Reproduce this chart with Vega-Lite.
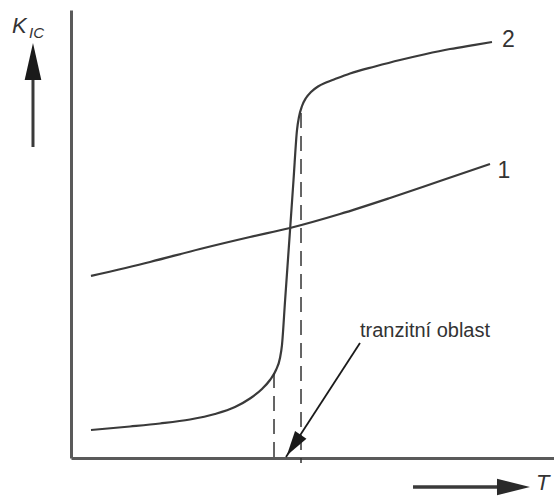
{
  "$schema": "https://vega.github.io/schema/vega-lite/v6.json",
  "width": 483,
  "height": 448,
  "padding": {"left": 71, "top": 10, "right": 0, "bottom": 38},
  "autosize": {"type": "none"},
  "background": "white",
  "config": {
    "view": {"stroke": null},
    "axis": {"domainColor": "#5a5a5a", "domainWidth": 3, "ticks": false, "labels": false, "grid": false},
    "font": "Liberation Sans"
  },
  "datasets": {
    "curves": [
      {"series": "1", "x": 4.14, "y": 40.63},
      {"series": "1", "x": 16.36, "y": 43.75},
      {"series": "1", "x": 26.71, "y": 46.65},
      {"series": "1", "x": 37.06, "y": 49.33},
      {"series": "1", "x": 45.34, "y": 51.34},
      {"series": "1", "x": 55.69, "y": 54.46},
      {"series": "1", "x": 66.05, "y": 58.04},
      {"series": "1", "x": 76.40, "y": 61.83},
      {"series": "1", "x": 86.75, "y": 65.63},
      {"series": "2", "x": 4.14, "y": 6.25},
      {"series": "2", "x": 12.22, "y": 7.03},
      {"series": "2", "x": 18.43, "y": 7.70},
      {"series": "2", "x": 24.64, "y": 8.59},
      {"series": "2", "x": 29.81, "y": 9.82},
      {"series": "2", "x": 33.95, "y": 11.38},
      {"series": "2", "x": 37.06, "y": 13.28},
      {"series": "2", "x": 39.54, "y": 15.40},
      {"series": "2", "x": 41.20, "y": 17.41},
      {"series": "2", "x": 42.44, "y": 19.64},
      {"series": "2", "x": 43.27, "y": 22.32},
      {"series": "2", "x": 43.68, "y": 25.22},
      {"series": "2", "x": 44.33, "y": 35.27},
      {"series": "2", "x": 45.38, "y": 51.34},
      {"series": "2", "x": 46.07, "y": 62.05},
      {"series": "2", "x": 46.79, "y": 73.21},
      {"series": "2", "x": 47.20, "y": 76.12},
      {"series": "2", "x": 47.83, "y": 78.57},
      {"series": "2", "x": 48.65, "y": 80.36},
      {"series": "2", "x": 49.69, "y": 81.70},
      {"series": "2", "x": 51.14, "y": 82.92},
      {"series": "2", "x": 52.80, "y": 83.82},
      {"series": "2", "x": 54.66, "y": 84.60},
      {"series": "2", "x": 57.77, "y": 85.83},
      {"series": "2", "x": 62.94, "y": 87.39},
      {"series": "2", "x": 68.12, "y": 88.84},
      {"series": "2", "x": 73.29, "y": 90.13},
      {"series": "2", "x": 78.47, "y": 91.29},
      {"series": "2", "x": 83.64, "y": 92.23},
      {"series": "2", "x": 87.16, "y": 92.86}
    ],
    "dashes": [
      {"x": 42.03, "y": 18.97, "y2": -1.12},
      {"x": 47.62, "y": 77.01, "y2": -1.12}
    ],
    "curveLabels": [
      {"label": "1", "x": 89.65, "y": 62.5},
      {"label": "2", "x": 90.58, "y": 91.74}
    ]
  },
  "layer": [
    {
      "data": {"name": "curves"},
      "mark": {"type": "line", "interpolate": "monotone", "stroke": "#3a3a3a", "strokeWidth": 2.2},
      "encoding": {
        "x": {"field": "x", "type": "quantitative", "scale": {"domain": [0, 100], "nice": false, "zero": false}, "title": null},
        "y": {"field": "y", "type": "quantitative", "scale": {"domain": [0, 100], "nice": false, "zero": false}, "title": null},
        "detail": {"field": "series"}
      }
    },
    {
      "data": {"name": "dashes"},
      "mark": {"type": "rule", "stroke": "#333", "strokeWidth": 1.5, "strokeDash": [15, 8]},
      "encoding": {
        "x": {"field": "x", "type": "quantitative", "title": null},
        "y": {"field": "y", "type": "quantitative", "title": null},
        "y2": {"field": "y2"}
      }
    },
    {
      "data": {"values": [{"x": 59.83, "y": 25.67, "x2": 44.51, "y2": 0.22}]},
      "mark": {"type": "rule", "stroke": "#1a1a1a", "strokeWidth": 1.8},
      "encoding": {
        "x": {"field": "x", "type": "quantitative", "title": null},
        "y": {"field": "y", "type": "quantitative", "title": null},
        "x2": {"field": "x2"},
        "y2": {"field": "y2"}
      }
    },
    {
      "data": {"values": [{"x": 46.12, "y": 2.85}]},
      "mark": {"type": "point", "shape": "M0,-1L0.55,1L-0.55,1Z", "size": 625, "angle": 214, "filled": true, "fill": "#1a1a1a", "opacity": 1, "strokeWidth": 0},
      "encoding": {
        "x": {"field": "x", "type": "quantitative", "title": null},
        "y": {"field": "y", "type": "quantitative", "title": null}
      }
    },
    {
      "data": {"values": [{"x": 70.81, "x2": 89.86, "y": -6.47}]},
      "mark": {"type": "rule", "stroke": "#3a3a3a", "strokeWidth": 3.5},
      "encoding": {
        "x": {"field": "x", "type": "quantitative", "title": null},
        "x2": {"field": "x2"},
        "y": {"field": "y", "type": "quantitative", "title": null}
      }
    },
    {
      "data": {"values": [{"x": 91.61, "y": -6.47}]},
      "mark": {"type": "point", "shape": "M1,0L-1,-0.5L-1,0.5Z", "size": 1089, "filled": true, "fill": "#2a2a2a", "opacity": 1, "strokeWidth": 0},
      "encoding": {
        "x": {"field": "x", "type": "quantitative", "title": null},
        "y": {"field": "y", "type": "quantitative", "title": null}
      }
    },
    {
      "data": {"values": [{"x": -7.87, "y": 69.42, "y2": 84.38}]},
      "mark": {"type": "rule", "stroke": "#3a3a3a", "strokeWidth": 3},
      "encoding": {
        "x": {"field": "x", "type": "quantitative", "title": null},
        "y": {"field": "y", "type": "quantitative", "title": null},
        "y2": {"field": "y2"}
      }
    },
    {
      "data": {"values": [{"x": -7.87, "y": 88.5}]},
      "mark": {"type": "point", "shape": "M0,-1L0.45,1L-0.45,1Z", "size": 1369, "filled": true, "fill": "#1a1a1a", "opacity": 1, "strokeWidth": 0},
      "encoding": {
        "x": {"field": "x", "type": "quantitative", "title": null},
        "y": {"field": "y", "type": "quantitative", "title": null}
      }
    },
    {
      "data": {"name": "curveLabels"},
      "mark": {"type": "text", "align": "center", "baseline": "alphabetic", "fontSize": 23, "color": "#333"},
      "encoding": {
        "x": {"field": "x", "type": "quantitative", "title": null},
        "y": {"field": "y", "type": "quantitative", "title": null},
        "text": {"field": "label"}
      }
    },
    {
      "data": {"values": [{"label": "tranzitní oblast", "x": 59.83, "y": 27.01}]},
      "mark": {"type": "text", "align": "left", "baseline": "alphabetic", "fontSize": 20, "color": "#333"},
      "encoding": {
        "x": {"field": "x", "type": "quantitative", "title": null},
        "y": {"field": "y", "type": "quantitative", "title": null},
        "text": {"field": "label"}
      }
    },
    {
      "data": {"values": [{"label": "K", "x": -12.21, "y": 94.87}]},
      "mark": {"type": "text", "align": "left", "baseline": "alphabetic", "fontSize": 22, "fontStyle": "italic", "color": "#333"},
      "encoding": {
        "x": {"field": "x", "type": "quantitative", "title": null},
        "y": {"field": "y", "type": "quantitative", "title": null},
        "text": {"field": "label"}
      }
    },
    {
      "data": {"values": [{"label": "IC", "x": -8.7, "y": 93.75}]},
      "mark": {"type": "text", "align": "left", "baseline": "alphabetic", "fontSize": 15, "fontStyle": "italic", "color": "#333"},
      "encoding": {
        "x": {"field": "x", "type": "quantitative", "title": null},
        "y": {"field": "y", "type": "quantitative", "title": null},
        "text": {"field": "label"}
      }
    },
    {
      "data": {"values": [{"label": "T", "x": 96.27, "y": -7.14}]},
      "mark": {"type": "text", "align": "left", "baseline": "alphabetic", "fontSize": 22, "fontStyle": "italic", "color": "#333"},
      "encoding": {
        "x": {"field": "x", "type": "quantitative", "title": null},
        "y": {"field": "y", "type": "quantitative", "title": null},
        "text": {"field": "label"}
      }
    }
  ]
}
